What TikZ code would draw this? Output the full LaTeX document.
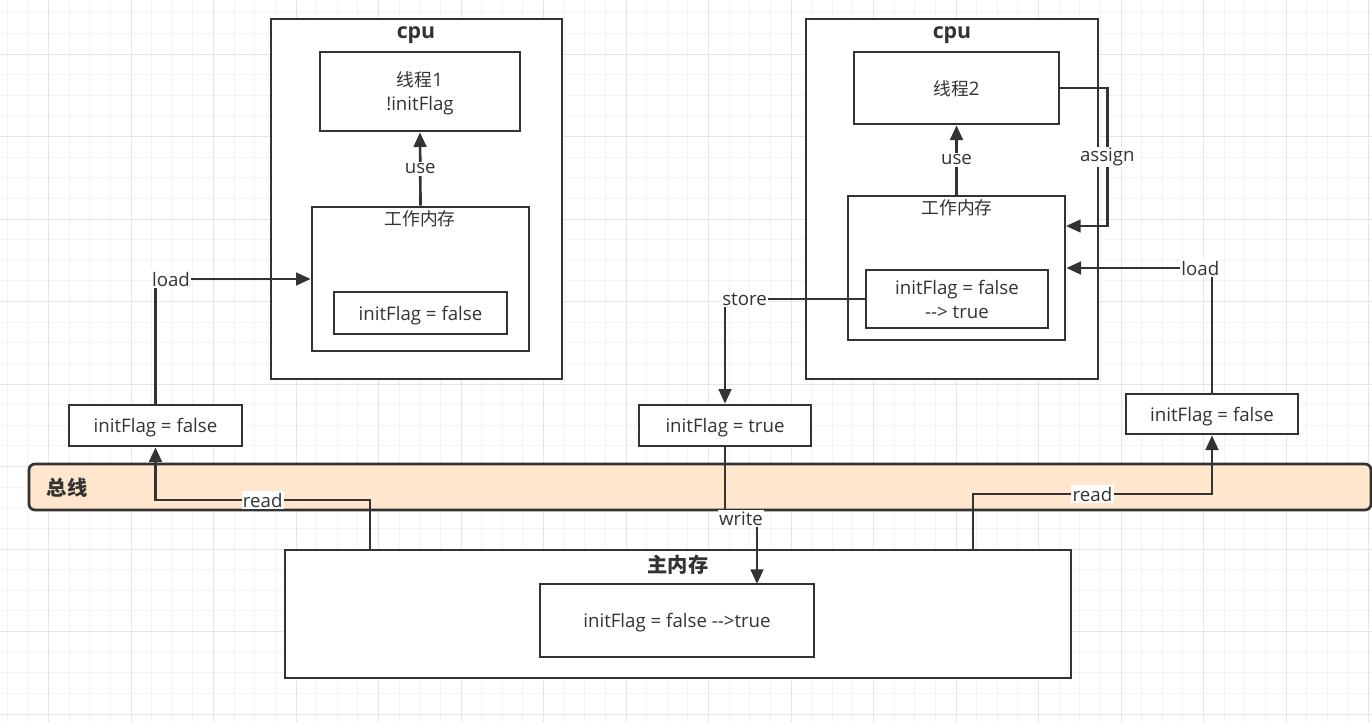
\documentclass[tikz,border=0pt]{standalone}
\usepackage{fontspec}
\setmainfont{Open Sans}[Ligatures=TeXOff]
\newfontfamily\cjk{Noto Sans CJK SC}[Scale=0.95]
\usetikzlibrary{arrows.meta}

\begin{document}
\begin{tikzpicture}[x=0.75pt,y=-0.75pt,line width=2pt,
    every node/.style={font=\fontsize{14}{18}\selectfont,text=ink},
    box/.style 2 args={draw=ink,fill=white,inner sep=0pt,align=center,text depth=0pt,
        minimum width=#1*0.75pt,minimum height=#2*0.75pt},
    title/.style={font=\fontsize{16}{18}\selectfont\bfseries},
    lbl/.style={fill=white,inner sep=1pt},
    arr/.style={draw=ink,-{Triangle[length=11pt,width=9.5pt]}}]

    % Colors
    \definecolor{ink}{RGB}{51,51,51}
    \definecolor{busfill}{RGB}{255,230,204}
    \definecolor{gridminor}{RGB}{243,243,243}
    \definecolor{gridmajor}{RGB}{229,229,229}

    \useasboundingbox (0,0) rectangle (1372,722);

    % ======================
    % Background grid
    % ======================
    \fill[white] (0,0) rectangle (1372,722);
    \foreach \x in {7.25,27.875,...,1372} \draw[gridminor,line width=0.75pt] (\x,0) -- (\x,722);
    \foreach \y in {12.75,33.375,...,722} \draw[gridminor,line width=0.75pt] (0,\y) -- (1372,\y);
    \foreach \x in {48.5,131,...,1372} \draw[gridmajor,line width=0.75pt] (\x,0) -- (\x,722);
    \foreach \y in {54,136.5,...,722} \draw[gridmajor,line width=0.75pt] (0,\y) -- (1372,\y);

    % ======================
    % Bus
    % ======================
    \node[box={1342}{46},fill=busfill,rounded corners=4.5pt] (bus) at (700,487) {};
    \node[title,anchor=west] (bustitle) at (41,488) {\cjk 总线};

    % ======================
    % CPU 1 (left)
    % ======================
    \node[box={291}{360}] (cpu1) at (416.5,199) {};
    \node[title] (cputitle1) at (416,35) {cpu};
    \node[box={200}{79}] (thread1) at (420,91.5) {{\cjk 线程}1\\!initFlag};
    \node[box={217}{144}] (work1) at (420.5,279) {};
    \node (worktitle1) at (420,219) {\cjk 工作内存};
    \node[box={173}{42}] (local1) at (420.5,313) {initFlag = false};

    % ======================
    % CPU 2 (right)
    % ======================
    \node[box={292}{360}] (cpu2) at (952,199) {};
    \node[title] (cputitle2) at (952,35) {cpu};
    \node[box={205}{72}] (thread2) at (956.5,88) {{\cjk 线程}2};
    \node[box={217}{144}] (work2) at (956.5,268) {};
    \node (worktitle2) at (957,208) {\cjk 工作内存};
    \node[box={182}{58}] (local2) at (957,299) {initFlag = false\\--> true};

    % ======================
    % Values on the bus
    % ======================
    \node[box={173}{41}] (flag1) at (155.5,425.5) {initFlag = false};
    \node[box={172}{41}] (flag2) at (725,425.5) {initFlag = true};
    \node[box={172}{40}] (flag3) at (1212,414) {initFlag = false};

    % ======================
    % Main memory
    % ======================
    \node[box={786}{128}] (mem) at (678,614) {};
    \node[title] (memtitle) at (678,565) {\cjk 主内存};
    \node[box={274}{73}] (memflag) at (677,620.5) {initFlag = false -->true};

    % free ends
    \coordinate (readone) at (370,550);
    \coordinate (readtwo) at (973,550);
    \coordinate (writeend) at (757,584);
    \coordinate (assignend) at (1066,226);

    % ======================
    % Connectors
    % ======================
    \draw[arr] (readone) -- ++(0,-50) -| node[lbl,pos=0.25] {read} (flag1.south);
    \draw[arr] (flag1.north) |- node[lbl,pos=0.55] {load} (work1.west);
    \draw[arr] (work1.north) -- node[lbl] {use} (thread1.south);

    \draw[arr] (thread2.east) -- ++(47,0) |- node[lbl,pos=0.25] {assign} (assignend);
    \draw[arr] (work2.north) -- node[lbl] {use} (thread2.south);
    \draw[arr] (local2.west) -| node[lbl,pos=0.43] {store} (flag2.north);
    \draw[arr] (flag2.south) -- ++(0,71) -| node[lbl,pos=0.25] {write} (writeend);

    \draw[arr] (readtwo) -- ++(0,-56) -| node[lbl,pos=0.25] {read} (flag3.south);
    \draw[arr] (flag3.north) |- node[lbl,pos=0.54] {load} (work2.east);

\end{tikzpicture}
\end{document}
